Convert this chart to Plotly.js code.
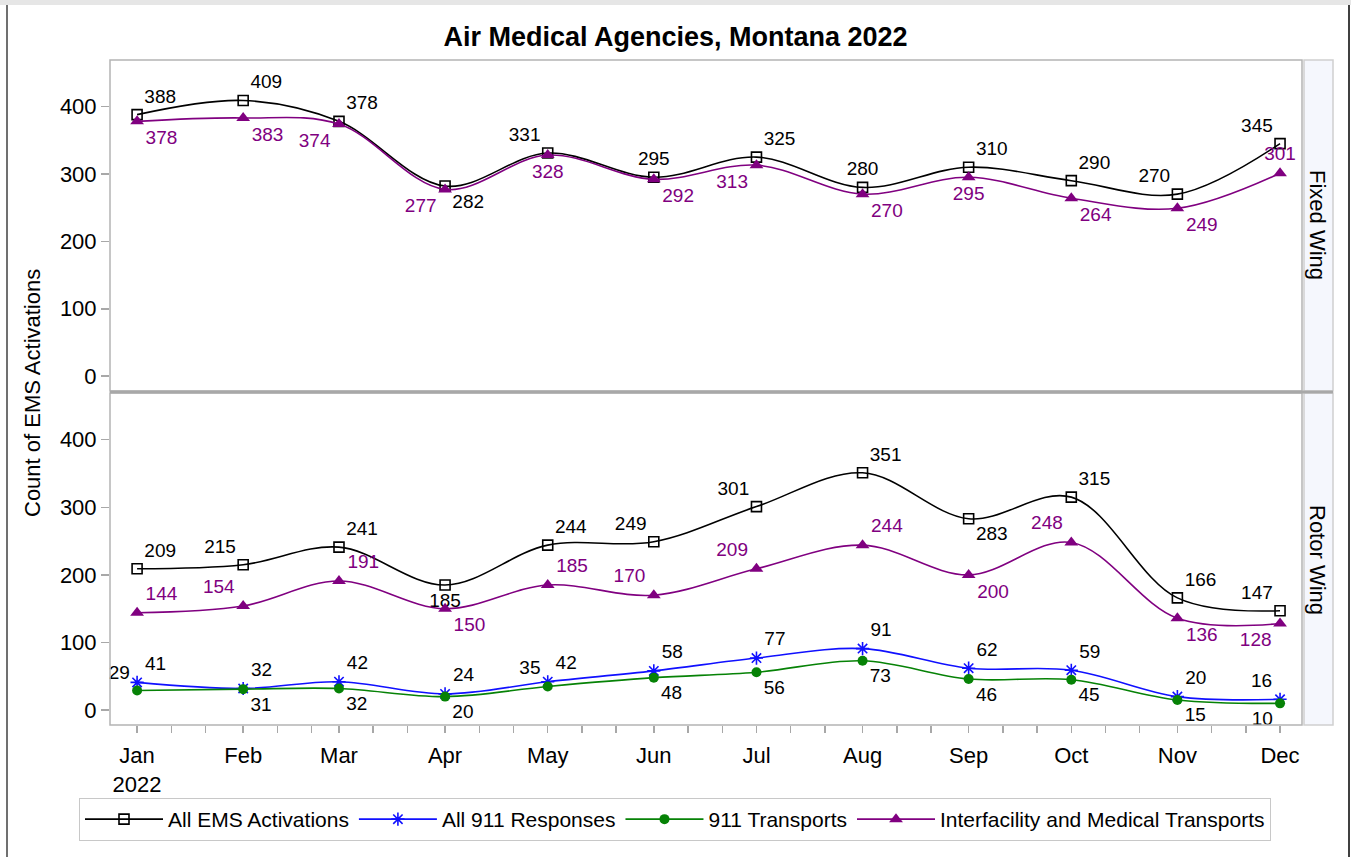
<!DOCTYPE html>
<html>
<head>
<meta charset="utf-8">
<script src="https://cdn.plot.ly/plotly-3.0.1.min.js"></script>
<style>
html,body{margin:0;padding:0;background:#fff;}
#wrap{position:relative;width:1351px;height:857px;overflow:hidden;}
#chart{position:absolute;left:0;top:0;width:1351px;height:857px;}
.deco{position:absolute;pointer-events:none;}
</style>
</head>
<body>
<div id="wrap">
  <div id="chart"></div>
  <div class="deco" style="left:0;top:0;width:1351px;height:5px;background:#e6e6e6;"></div>
  <div class="deco" style="left:6px;top:5px;width:2px;height:852px;background:#707070;"></div>
  <div class="deco" style="left:1348px;top:5px;width:2px;height:852px;background:#404040;"></div>
</div>
<script>
// ---------------- data ----------------
const months = ['Jan','Feb','Mar','Apr','May','Jun','Jul','Aug','Sep','Oct','Nov','Dec'];
const dates = ['2022-01-01','2022-02-01','2022-03-01','2022-04-01','2022-05-01','2022-06-01',
               '2022-07-01','2022-08-01','2022-09-01','2022-10-01','2022-11-01','2022-12-01'];
const yearLabel = '2022';
const seriesNames = ['All EMS Activations','All 911 Responses','911 Transports','Interfacility and Medical Transports'];
const panelNames = ['Fixed Wing','Rotor Wing'];

const fixedAllEMS        = [388,409,378,282,331,295,325,280,310,290,270,345];
const fixedInterfacility = [378,383,374,277,328,292,313,270,295,264,249,301];

const rotorAllEMS        = [209,215,241,185,244,249,301,351,283,315,166,147];
const rotorAll911        = [41,32,42,24,42,58,77,91,62,59,20,16];
const rotor911Transports = [29,31,32,20,35,48,56,73,46,45,15,10];
const rotorInterfacility = [144,154,191,150,185,170,209,244,200,248,136,128];

const yTicks = [0,100,200,300,400];

// ---------------- label placement (style) ----------------
const TR='top right', TL='top left', TC='top center', BR='bottom right', BL='bottom left', BC='bottom center';
const posFixedEMS   = [TR,TR,TR,BR,TL,TC,TR,TC,TR,TR,TL,TL];
const posFixedInter = [BR,BR,BL,BL,BC,BR,BL,BR,BC,BR,BR,TC];
const posRotorEMS   = [TR,TL,TR,BC,TR,TL,TL,TR,BR,TR,TR,TL];
const posRotorInter = [TR,TL,TR,BR,TR,TL,TL,TR,BR,TL,BR,BL];
const posRotor911   = [TR,TR,TR,TR,TR,TR,TR,TR,TR,TR,TR,TL];
const posRotorTrans = [TL,BR,BR,BR,TL,BR,BR,BR,BR,BR,BR,BL];

// ---------------- geometry helpers ----------------
const W=1351, H=857, L=110, R=1302, T=60, B=725;
const px = x => (x-L)/(R-L);
const py = y => (B-y)/(B-T);

const FONT = 'Liberation Sans, Arial, Helvetica, sans-serif';
const cBlack='#000000', cBlue='#1010ff', cGreen='#068206', cPurple='#800080';

// x ticks at day 1, 11, 21 of each month, labelled on the 1st
const tickvals=[], ticktext=[];
dates.forEach((d,i)=>{
  const ym = d.slice(0,8);
  [ '01','11','21' ].forEach(day=>{
    if (i===dates.length-1 && day!=='01') return;
    tickvals.push(ym+day);
    if (day==='01') ticktext.push(i===0 ? months[i]+'<br>'+yearLabel : months[i]);
    else ticktext.push('');
  });
});

function trace(y, name, color, symbol, size, pos, textColor, yaxis, showlegend){
  const open = symbol.indexOf('open')>=0;
  return {
    type:'scatter', mode:'lines+markers+text',
    x:dates, y:y, name:name, yaxis:yaxis, showlegend:showlegend, legendgroup:name,
    text:y.map(String), textposition:pos,
    textfont:{family:FONT, size:19, color:textColor},
    line:{color:color, width:1.6, shape:'spline', smoothing:1},
    marker:{symbol:symbol, size:size, color:color,
            line:{color:color, width:open?1.6:0}},
    cliponaxis:false, hoverinfo:'x+y'
  };
}

const data = [
  trace(fixedAllEMS, seriesNames[0], cBlack, 'square-open', 10, posFixedEMS, cBlack, 'y2', false),
  trace(fixedInterfacility, seriesNames[3], cPurple, 'triangle-up', 12, posFixedInter, cPurple, 'y2', false),
  trace(rotorAllEMS, seriesNames[0], cBlack, 'square-open', 10, posRotorEMS, cBlack, 'y', true),
  trace(rotorAll911, seriesNames[1], cBlue, 'asterisk-open', 11, posRotor911, cBlack, 'y', true),
  trace(rotor911Transports, seriesNames[2], cGreen, 'circle', 10, posRotorTrans, cBlack, 'y', true),
  trace(rotorInterfacility, seriesNames[3], cPurple, 'triangle-up', 12, posRotorInter, cPurple, 'y', true)
];

const yBase = {
  range:[-22,469], tickvals:yTicks, ticks:'outside', ticklen:8, tickwidth:1.5, tickcolor:'#a8a8a8',
  showgrid:false, zeroline:false, showline:false,
  tickfont:{family:FONT, size:22, color:'#000'}
};

const frameColor='#b4b4b4';
const layout = {
  width:W, height:H,
  margin:{l:L, r:W-R, t:T, b:H-B, pad:0, autoexpand:false},
  paper_bgcolor:'#fff', plot_bgcolor:'#fff',
  font:{family:FONT, color:'#000'},
  title:{text:'<b>Air Medical Agencies, Montana 2022</b>', font:{family:FONT, size:27, color:'#000'},
         xref:'container', x:0.5, xanchor:'center', yref:'container', y:1-37/H, yanchor:'middle'},
  xaxis:{type:'date', range:['2021-12-24 02:00','2022-12-07 10:00'], anchor:'y',
         tickmode:'array', tickvals:tickvals, ticktext:ticktext,
         ticks:'outside', ticklen:7, tickwidth:1.5, tickcolor:'#a8a8a8',
         ticklabelstandoff:4,
         showgrid:false, zeroline:false, showline:false,
         tickfont:{family:FONT, size:22, color:'#000'}},
  yaxis: Object.assign({}, yBase, {domain:[0, py(393)]}),
  yaxis2: Object.assign({}, yBase, {domain:[py(391), 1], anchor:'x'}),
  showlegend:true,
  legend:{orientation:'h', xref:'container', yref:'container',
          x:675/W, xanchor:'center', y:1-798/H, yanchor:'top',
          bordercolor:'#c8c8c8', borderwidth:1, bgcolor:'#fff',
          font:{family:FONT, size:21, color:'#000'}, itemwidth:78, traceorder:'normal',
          tracegroupgap:0},
  shapes:[
    // strips
    {type:'rect', xref:'paper', yref:'paper', x0:px(1304), x1:px(1333), y0:py(391), y1:1,
     fillcolor:'#f5f7fd', line:{color:'#d0d0d0', width:1.5}, layer:'below'},
    {type:'rect', xref:'paper', yref:'paper', x0:px(1304), x1:px(1333), y0:0, y1:py(393),
     fillcolor:'#f5f7fd', line:{color:'#d0d0d0', width:1.5}, layer:'below'},
    // panel frames
    {type:'rect', xref:'paper', yref:'paper', x0:0, x1:1, y0:py(391), y1:1,
     line:{color:frameColor, width:1.5}},
    {type:'rect', xref:'paper', yref:'paper', x0:0, x1:1, y0:0, y1:py(393),
     line:{color:frameColor, width:1.5}},
    // separator
    {type:'line', xref:'paper', yref:'paper', x0:0, x1:px(1333), y0:py(392), y1:py(392),
     line:{color:'#a8a8a8', width:3}}
  ],
  annotations:[
    {text:panelNames[0], xref:'paper', yref:'paper', x:px(1318), y:py(225), textangle:90,
     showarrow:false, xanchor:'center', yanchor:'middle', font:{family:FONT, size:22, color:'#000'}},
    {text:panelNames[1], xref:'paper', yref:'paper', x:px(1318), y:py(560), textangle:90,
     showarrow:false, xanchor:'center', yanchor:'middle', font:{family:FONT, size:22, color:'#000'}},
    {text:'Count of EMS Activations', xref:'paper', yref:'paper', x:px(33), y:py(393), textangle:-90,
     showarrow:false, xanchor:'center', yanchor:'middle', font:{family:FONT, size:22, color:'#000'}}
  ]
};

Plotly.newPlot('chart', data, layout, {displayModeBar:false, staticPlot:true});
</script>
</body>
</html>
